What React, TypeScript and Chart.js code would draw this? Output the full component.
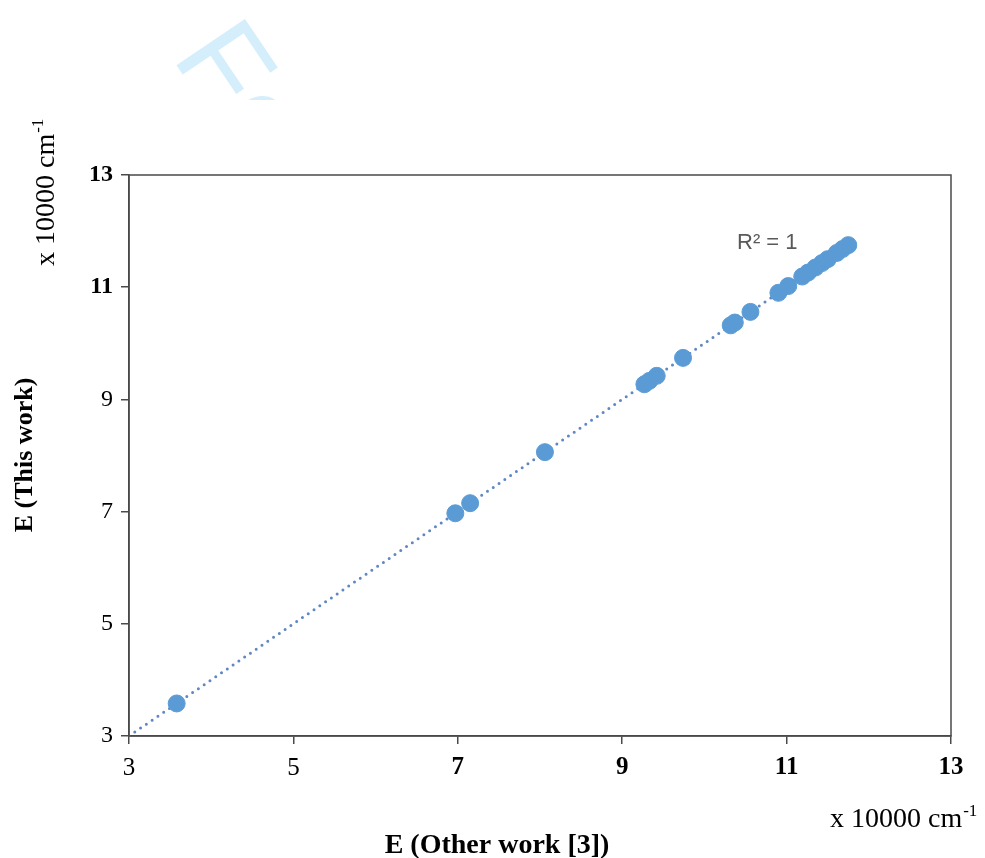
import React, { useEffect, useRef } from "react";
import { Chart, registerables } from "chart.js";

Chart.register(...registerables);

// E (Other work [3]) in units of 10000 cm^-1
const otherWork = [3.58, 6.97, 7.15, 8.06, 9.27, 9.33, 9.42, 9.74, 10.32, 10.37, 10.56, 10.9, 11.02, 11.19, 11.26, 11.35, 11.43, 11.5, 11.61, 11.68, 11.75];
// E (This work) in units of 10000 cm^-1
const thisWork = [3.58, 6.97, 7.15, 8.06, 9.27, 9.33, 9.42, 9.74, 10.32, 10.37, 10.56, 10.9, 11.02, 11.19, 11.26, 11.35, 11.43, 11.5, 11.61, 11.68, 11.75];
// linear trendline end points (y = x, R² = 1)
const trendX = [3.0, 11.75];
const trendY = [3.0, 11.75];

const axisMin = 3;
const axisMax = 13;
const axisStep = 2;

const xTitle = "E (Other work [3])";
const yTitle = "E (This work)";
const unitText = "x 10000 cm";
const unitSup = "-1";
const r2Text = "R² = 1";
const watermark = "For Peer Review";

const SERIF = '"Liberation Serif", "Times New Roman", serif';
const SANS = '"Liberation Sans", Arial, sans-serif';

function drawUnit(ctx: CanvasRenderingContext2D, x: number, y: number, size: number) {
  ctx.font = `${size}px ${SERIF}`;
  ctx.textBaseline = "alphabetic";
  ctx.textAlign = "left";
  ctx.fillText(unitText, x, y);
  const w = ctx.measureText(unitText).width;
  ctx.font = `${Math.round(size * 0.62)}px ${SERIF}`;
  ctx.fillText(unitSup, x + w + 1, y - size * 0.38);
}

const textPlugin = {
  id: "customText",
  beforeDraw(chart: any) {
    const ctx = chart.ctx as CanvasRenderingContext2D;
    // watermark
    ctx.save();
    ctx.beginPath();
    ctx.rect(0, 0, chart.width, 100);
    ctx.clip();
    ctx.translate(171, 57);
    ctx.rotate((56 * Math.PI) / 180);
    ctx.fillStyle = "#d4eefb";
    ctx.font = `120px ${SANS}`;
    ctx.textBaseline = "alphabetic";
    ctx.textAlign = "left";
    ctx.fillText(watermark, 0, 0);
    ctx.restore();
  },
  afterDraw(chart: any) {
    const ctx = chart.ctx as CanvasRenderingContext2D;
    const a = chart.chartArea;
    ctx.save();
    // plot border
    ctx.strokeStyle = "#4a4a4a";
    ctx.lineWidth = 1.5;
    ctx.strokeRect(a.left, a.top, a.right - a.left, a.bottom - a.top);

    ctx.fillStyle = "#000";
    // x title
    ctx.font = `bold 28px ${SERIF}`;
    ctx.textAlign = "center";
    ctx.textBaseline = "alphabetic";
    ctx.fillText(xTitle, 497, 853);
    // x unit
    drawUnit(ctx, 830, 827, 28);

    // y title (rotated)
    ctx.save();
    ctx.translate(32, 455);
    ctx.rotate(-Math.PI / 2);
    ctx.font = `bold 26px ${SERIF}`;
    ctx.textAlign = "center";
    ctx.textBaseline = "alphabetic";
    ctx.fillText(yTitle, 0, 0);
    ctx.restore();

    // y unit (rotated)
    ctx.save();
    ctx.translate(54, 266);
    ctx.rotate(-Math.PI / 2);
    drawUnit(ctx, 0, 0, 28);
    ctx.restore();

    // R² label
    ctx.fillStyle = "#595959";
    ctx.font = `22px ${SANS}`;
    ctx.textAlign = "left";
    ctx.textBaseline = "alphabetic";
    ctx.fillText(r2Text, 737, 249);
    ctx.restore();
  },
};

export default function App() {
  const ref = useRef<HTMLCanvasElement>(null);

  useEffect(() => {
    if (!ref.current) return;
    const points = otherWork.map((x, i) => ({ x, y: thisWork[i] }));
    const trend = trendX.map((x, i) => ({ x, y: trendY[i] }));
    const chart = new Chart(ref.current, {
      type: "scatter",
      data: {
        datasets: [
          {
            type: "line",
            label: "Trend",
            data: trend,
            borderColor: "#5f87c2",
            borderWidth: 3,
            borderDash: [0, 7],
            borderCapStyle: "round",
            pointRadius: 0,
            fill: false,
            order: 2,
          } as any,
          {
            label: "E",
            data: points,
            backgroundColor: "#5b9bd5",
            borderColor: "#5b9bd5",
            pointRadius: 8.5,
            pointHoverRadius: 8.5,
            order: 1,
          },
        ],
      },
      options: {
        animation: false,
        responsive: true,
        maintainAspectRatio: false,
        layout: { padding: { top: 175, right: 34, left: 0, bottom: 0 } },
        plugins: {
          legend: { display: false },
          tooltip: { enabled: false },
        },
        scales: {
          x: {
            type: "linear",
            min: axisMin,
            max: axisMax,
            afterFit: (s: any) => {
              s.height = 122;
            },
            ticks: {
              stepSize: axisStep,
              color: "#000",
              padding: 9,
              font: (c: any) => ({
                family: SERIF,
                size: 25,
                weight: c.tick && c.tick.value >= 7 ? "bold" : "normal",
              }),
            },
            grid: {
              display: true,
              drawOnChartArea: false,
              drawTicks: true,
              tickLength: 8,
              color: "#4a4a4a",
              lineWidth: 1.5,
            },
            border: { display: true, color: "#4a4a4a", width: 1.5 },
          },
          y: {
            type: "linear",
            min: axisMin,
            max: axisMax,
            afterFit: (s: any) => {
              s.width = 129;
            },
            ticks: {
              stepSize: axisStep,
              color: "#000",
              padding: 8,
              font: (c: any) => ({
                family: SERIF,
                size: 24,
                weight: c.tick && c.tick.value >= 11 ? "bold" : "normal",
              }),
            },
            grid: {
              display: true,
              drawOnChartArea: false,
              drawTicks: true,
              tickLength: 8,
              color: "#4a4a4a",
              lineWidth: 1.5,
            },
            border: { display: true, color: "#4a4a4a", width: 1.5 },
          },
        },
      },
      plugins: [textPlugin],
    });
    return () => chart.destroy();
  }, []);

  return (
    <div style={{ position: "fixed", left: 0, top: 0, width: 985, height: 858, background: "#fff" }}>
      <canvas ref={ref} />
    </div>
  );
}
